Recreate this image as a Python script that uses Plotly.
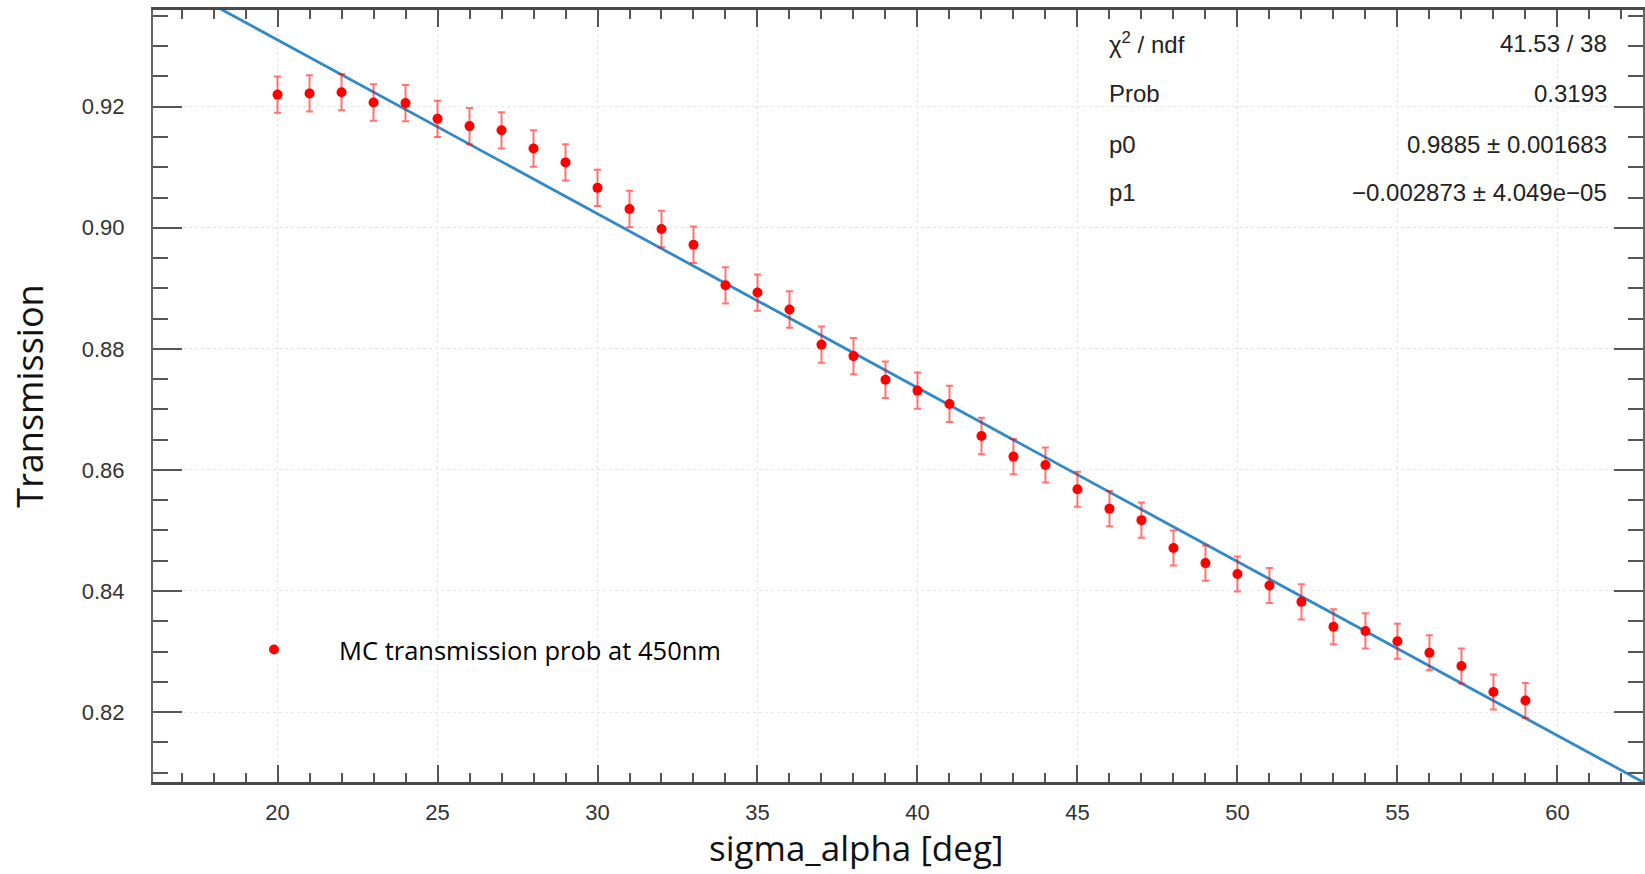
import plotly.graph_objects as go

# ---- data ----
sigma_alpha = list(range(20, 60))
transmission = [
    0.9220, 0.9222, 0.9224, 0.9207, 0.9206, 0.9180, 0.9168, 0.9161, 0.9131, 0.9108,
    0.9066, 0.9031, 0.8998, 0.8972, 0.8905, 0.8893, 0.8865, 0.8807, 0.8788, 0.8749,
    0.8731, 0.8709, 0.8656, 0.8622, 0.8608, 0.8568, 0.8536, 0.8517, 0.8471, 0.8446,
    0.8428, 0.8409, 0.8382, 0.8341, 0.8334, 0.8317, 0.8298, 0.8276, 0.8233, 0.8219,
]
transmission_err = [0.0030] * 23 + [0.0029] * 17

# fit parameters (from stats box)
p0 = 0.9885
p1 = -0.002873
stat_labels = ["χ<sup>2</sup> / ndf", "Prob", "p0", "p1"]
stat_values = ["41.53 / 38", "0.3193", "0.9885 ± 0.001683", "−0.002873 ± 4.049e−05"]

x_range = [16.108, 62.675]
y_range = [0.80844, 0.93598]

fit_x = x_range
fit_y = [p0 + p1 * v for v in fit_x]

fig = go.Figure()

fig.add_trace(go.Scatter(
    x=fit_x, y=fit_y, mode="lines",
    line=dict(color="#3189c8", width=2.8),
    showlegend=False, hoverinfo="skip",
))

fig.add_trace(go.Scatter(
    x=sigma_alpha, y=transmission, mode="markers",
    name="MC transmission prob at 450nm",
    marker=dict(color="#ff0000", size=10),
    error_y=dict(type="data", array=transmission_err, visible=True,
                 color="rgba(255,0,0,0.55)", thickness=2, width=3.5),
))

tickfont = dict(family="Liberation Sans, Arial, sans-serif", size=22, color="#333333")
title_font = dict(family="Open Sans, sans-serif", size=35, color="#111111")

fig.update_xaxes(
    range=x_range, showline=True, linecolor="#4a4a4a", linewidth=2.5, mirror="ticks",
    ticks="inside", ticklen=17, tickwidth=1.5, tickcolor="#555555",
    tickvals=[20, 25, 30, 35, 40, 45, 50, 55, 60],
    tickfont=tickfont, ticklabelstandoff=9,
    showgrid=True, gridcolor="#e6e6e6", gridwidth=1, griddash="dot",
    minor=dict(dtick=1, tick0=0, ticks="inside", ticklen=9, tickcolor="#555555",
               tickwidth=1.5, showgrid=False),
    zeroline=False,
)
fig.update_yaxes(
    range=y_range, showline=True, linecolor="#666666", linewidth=2, mirror="ticks",
    ticks="inside", ticklen=29, tickwidth=1.5, tickcolor="#555555",
    tickvals=[0.82, 0.84, 0.86, 0.88, 0.90, 0.92],
    ticktext=["0.82", "0.84", "0.86", "0.88", "0.90", "0.92"],
    tickfont=tickfont, ticklabelstandoff=22,
    showgrid=True, gridcolor="#e6e6e6", gridwidth=1, griddash="dot",
    minor=dict(dtick=0.005, tick0=0, ticks="inside", ticklen=15, tickcolor="#555555",
               tickwidth=1.5, showgrid=False),
    zeroline=False,
    title=dict(text="Transmission", font=dict(family="Open Sans, sans-serif", size=36,
                                              color="#111111"), standoff=27),
)

# x-axis title (placed off-centre as in the reference)
fig.add_annotation(text="sigma_alpha [deg]", xref="paper", yref="paper",
                   x=0.4718, y=-0.0842, xanchor="center", yanchor="middle",
                   showarrow=False, font=title_font, borderpad=0)

# white stats box and legend box hiding the grid
fig.add_shape(type="rect", xref="paper", yref="paper", x0=0.6247, x1=1.0, y0=0.7345, y1=1.0,
              fillcolor="white", line=dict(width=0), layer="between")
fig.add_shape(type="rect", xref="paper", yref="paper", x0=0.0362, x1=0.4001, y0=0.0246, y1=0.2940,
              fillcolor="white", line=dict(width=0), layer="between")

stat_font = dict(family="Liberation Sans, Arial, sans-serif", size=24, color="#222222")
row_y = [0.9570, 0.8912, 0.8264, 0.7630]
for lab, val, yy in zip(stat_labels, stat_values, row_y):
    fig.add_annotation(text=lab, xref="paper", yref="paper", x=0.6405, y=yy,
                       xanchor="left", yanchor="middle", showarrow=False, font=stat_font)
    fig.add_annotation(text=val, xref="paper", yref="paper", x=0.9772, y=yy,
                       xanchor="right", yanchor="middle", showarrow=False, font=stat_font)

fig.update_layout(
    width=1645, height=874,
    margin=dict(l=153, r=0, t=10, b=92),
    paper_bgcolor="white", plot_bgcolor="white",
    showlegend=True,
    legend=dict(x=0.0376, y=0.171, xanchor="left", yanchor="middle",
                bgcolor="rgba(0,0,0,0)", itemwidth=120,
                font=dict(family="Open Sans, sans-serif", size=25.5, color="#000000")),
)

fig.write_html("out.html")
